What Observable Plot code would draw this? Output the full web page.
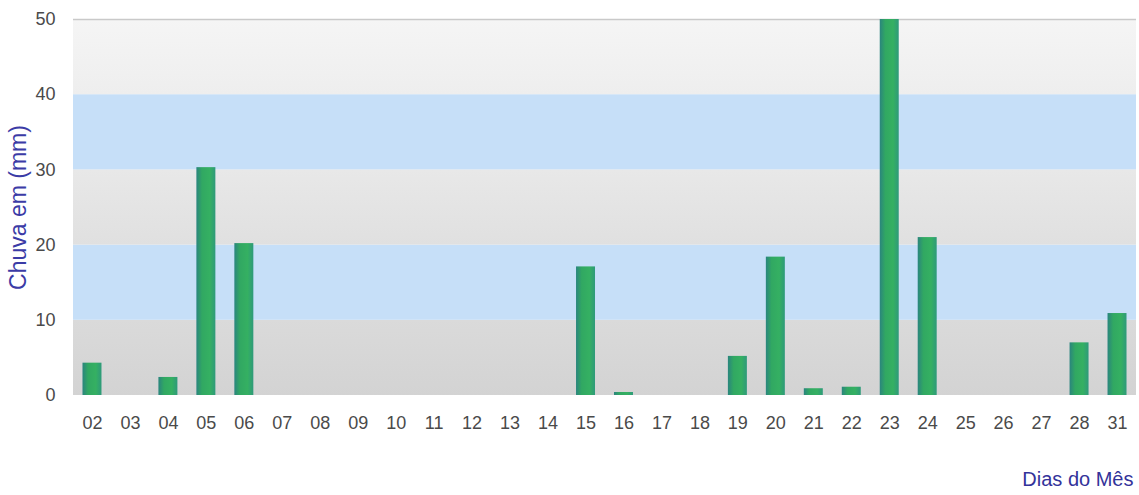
<!DOCTYPE html>
<html>
<head>
<meta charset="utf-8">
<script src="https://cdn.jsdelivr.net/npm/d3@7"></script>
<script src="https://cdn.jsdelivr.net/npm/@observablehq/plot@0.6"></script>
<style>
  html, body { margin: 0; padding: 0; background: #ffffff; }
  #chart svg { display: block; }
</style>
</head>
<body>
<div id="chart"></div>
<script>
// ---- data ----
const days = ["02","03","04","05","06","07","08","09","10","11","12","13","14","15",
              "16","17","18","19","20","21","22","23","24","25","26","27","28","31"];
const rainMM = [4.3, 0, 2.4, 30.3, 20.2, 0, 0, 0, 0, 0, 0, 0, 0, 17.1,
                0.4, 0, 0, 5.2, 18.4, 0.9, 1.1, 50, 21, 0, 0, 0, 7.0, 10.9];
const yTicks = [0, 10, 20, 30, 40, 50];
const bandStarts = [0, 10, 20, 30, 40];
const yLabel = "Chuva em (mm)";
const xLabel = "Dias do Mês";

// ---- build ----
const rows = days.map((d, i) => ({day: d, mm: rainMM[i]}));

const greyStops = [["#d3d3d3", "#dadada"], null, ["#e0e0e0", "#e8e8e8"], null, ["#eeeeee", "#f5f5f5"]];
const blueFill = "#c6dff8";

const defs = () => {
  const d = d3.create("svg:defs");
  const bar = d.append("linearGradient").attr("id", "barGrad")
    .attr("x1", "0").attr("x2", "1").attr("y1", "0").attr("y2", "0");
  [["0%", "#2a857e"], ["30%", "#31a862"], ["70%", "#35b062"], ["100%", "#2e9a7a"]]
    .forEach(([o, c]) => bar.append("stop").attr("offset", o).attr("stop-color", c));
  greyStops.forEach((s, i) => {
    if (!s) return;
    const g = d.append("linearGradient").attr("id", "band" + i)
      .attr("x1", "0").attr("x2", "0").attr("y1", "1").attr("y2", "0");
    g.append("stop").attr("offset", "0%").attr("stop-color", s[0]);
    g.append("stop").attr("offset", "100%").attr("stop-color", s[1]);
  });
  return d.node();
};

const bandMarks = bandStarts.map((lo, i) =>
  Plot.rect([lo], {y1: d => d, y2: d => d + 10, fill: greyStops[i] ? `url(#band${i})` : blueFill})
);

const chart = Plot.plot({
  width: 1139,
  height: 495,
  marginTop: 19,
  marginBottom: 100,
  marginLeft: 73,
  marginRight: 3,
  style: {fontFamily: "'Liberation Sans', Arial, sans-serif", background: "#ffffff"},
  x: {domain: days, paddingInner: 0.5, paddingOuter: 0.25, round: false, label: null},
  y: {domain: [0, 50], label: null},
  marks: [
    defs,
    ...bandMarks,
    Plot.ruleY([50], {stroke: "#c9c9c9", strokeWidth: 1.5}),
    Plot.barY(rows.filter(r => r.mm > 0), {x: "day", y: "mm", fill: "url(#barGrad)"}),
    Plot.axisX({tickSize: 0, tickPadding: 21, fontSize: 18, fill: "#4a4a4a", label: null}),
    Plot.axisY({ticks: yTicks, tickSize: 0, tickPadding: 18, fontSize: 18, fill: "#4a4a4a", label: null}),
    Plot.text([yLabel], {frameAnchor: "left", textAnchor: "middle", rotate: -90, dx: -55, fontSize: 23, fill: "#3b3ba6"}),
    Plot.text([xLabel], {frameAnchor: "bottom-right", textAnchor: "end", dx: -3, dy: 90, fontSize: 20, fill: "#33339a"})
  ]
});

document.getElementById("chart").appendChild(chart);
</script>
</body>
</html>
